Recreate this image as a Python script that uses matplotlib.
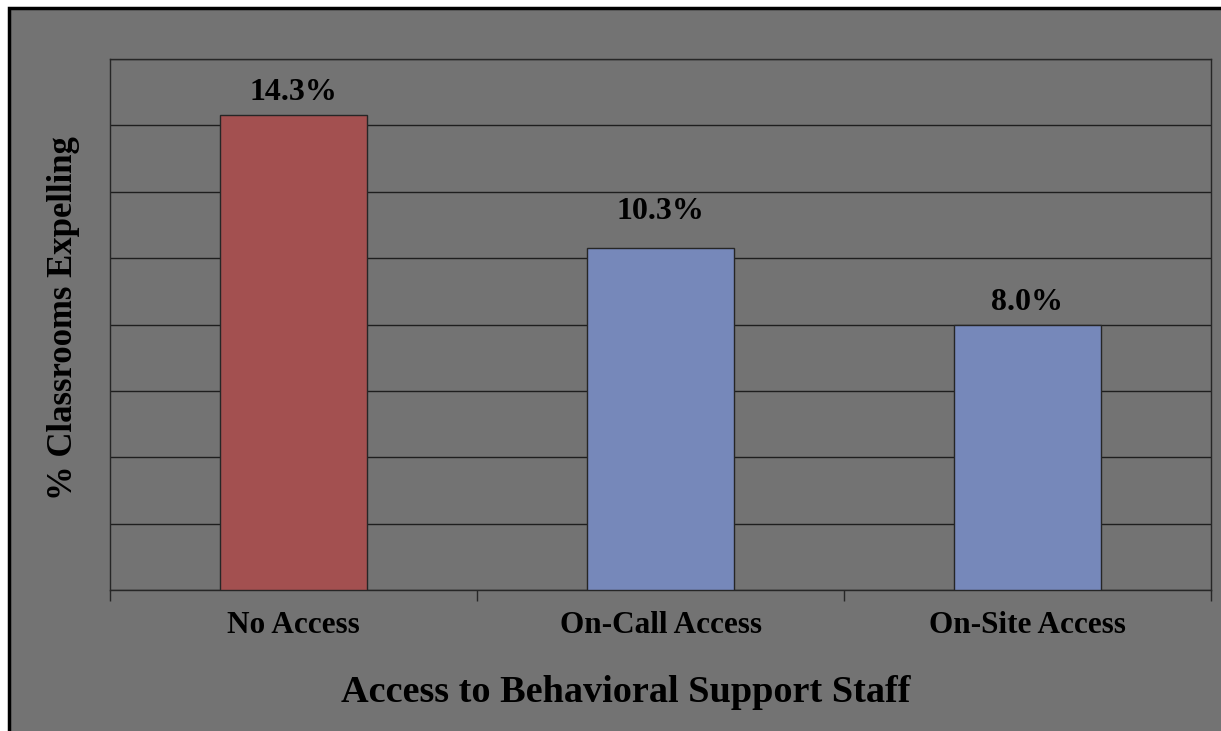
import matplotlib
matplotlib.use("Agg")
import matplotlib.pyplot as plt
from matplotlib.patches import Rectangle

categories = ["No Access", "On-Call Access", "On-Site Access"]
values     = [14.3, 10.3, 8.0]
labels     = ["14.3%", "10.3%", "8.0%"]
colors     = ["#A35050", "#7688BA", "#7688BA"]

bg = "#737373"
label_gap = [0.45, 0.88, 0.45]  # baseline gap above each bar, in % units
plt.rcParams['font.family'] = ['Liberation Serif', 'DejaVu Serif']

fig = plt.figure(figsize=(12.21, 7.31), dpi=100)
fig.patch.set_facecolor("white")

# grey panel with black frame (top/left visible)
fig.add_artist(Rectangle((9/1221, -0.1), 1.2, 1.1 - 8/731, transform=fig.transFigure,
                         facecolor=bg, edgecolor="black", linewidth=2.5, zorder=-10))

ax = fig.add_axes([110/1221, 1 - 590/731, 1101/1221, 531/731])
ax.set_facecolor(bg)

x = list(range(len(categories)))
ax.bar(x, values, width=0.4, color=colors, edgecolor="#262626", linewidth=1, zorder=3)

for xi, v, lab, g in zip(x, values, labels, label_gap):
    ax.text(xi, v + g, lab, ha="center", va="baseline", fontsize=23, fontweight="bold")

ax.set_xlim(-0.5, 2.5)
ax.set_ylim(0, 16)
ax.set_yticks(range(0, 17, 2))
ax.set_yticklabels([])
ax.tick_params(axis="y", length=0)
ax.yaxis.grid(True, color="#1e1e1e", linewidth=1)
ax.set_axisbelow(True)

ax.set_xticks(x)
ax.set_xticklabels(categories, fontsize=22.5, fontweight="bold")
ax.tick_params(axis="x", length=0, pad=15)
# boundary ticks between categories
ax.set_xticks([-0.5, 0.5, 1.5, 2.5], minor=True)
ax.tick_params(axis="x", which="minor", length=8, color="#262626", width=1)

for s in ax.spines.values():
    s.set_color("#262626")
    s.set_linewidth(1)

ax.set_xlabel("Access to Behavioral Support Staff", fontsize=27.5, fontweight="bold")
ax.xaxis.set_label_coords(0.468, -0.160)
ax.set_ylabel("% Classrooms Expelling", fontsize=25, fontweight="bold")
ax.yaxis.set_label_coords(-0.027, 0.512)

fig.savefig("out.png", dpi=100, facecolor=fig.get_facecolor())
